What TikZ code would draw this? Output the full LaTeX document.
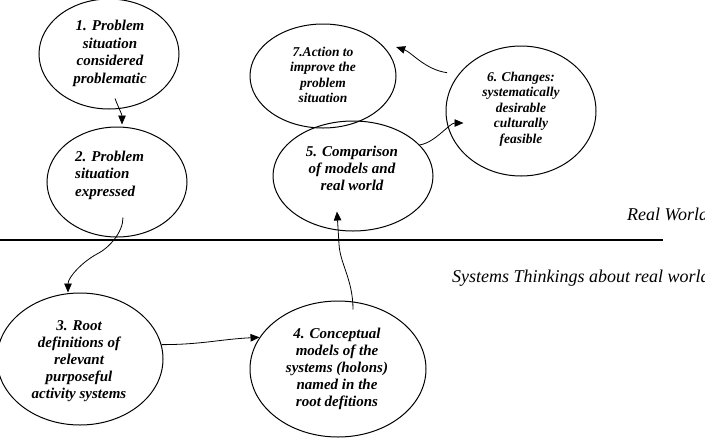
\documentclass[tikz,border=0pt]{standalone}
\usepackage{fontspec}
\setmainfont{Liberation Serif}
\usetikzlibrary{arrows.meta,shapes.geometric,calc}
\begin{document}
\begin{tikzpicture}[x=1pt,y=-1pt,
  el/.style={draw,ellipse,line width=1pt,inner sep=0pt},
  arr/.style={line width=0.8pt,-{Triangle[length=9pt,width=7.5pt]}},
  tx/.style={inner sep=0pt,align=center},
  big/.style={font=\fontsize{15}{17.5}\selectfont\bfseries\itshape},
  small/.style={font=\fontsize{13.5}{15.4}\selectfont\bfseries\itshape}]
\useasboundingbox (0,0) rectangle (705,440);
% ellipses
\node[el,minimum width=140pt,minimum height=110pt] (e1) at (109,54) {};
\node[el,minimum width=140pt,minimum height=110pt] (e2) at (117,182) {};
\node[el,minimum width=146pt,minimum height=104pt] (e7) at (323,76) {};
\node[el,minimum width=160pt,minimum height=110pt] (e5) at (353,176) {};
\node[el,minimum width=150pt,minimum height=130pt] (e6) at (521,111) {};
\node[el,minimum width=166pt,minimum height=132pt] (e3) at (80,359) {};
\node[el,minimum width=176pt,minimum height=136pt] (e4) at (338,369) {};
% texts
\node[tx,big] (t1) at (110,53.5) {1. Problem\\situation\\considered\\problematic};
\node[tx,big,align=left,anchor=west] (t2) at (75,175) {2. Problem\\situation\\expressed};
\node[tx,small] (t7) at (323,75) {7.Action to\\improve the\\problem\\situation};
\node[tx,big,font=\fontsize{15}{16.7}\selectfont\bfseries\itshape] (t5) at (352,168.5) {5. Comparison\\of models and\\real world};
\node[tx,small] (t6) at (521,109) {6. Changes:\\systematically\\desirable\\culturally\\feasible};
\node[tx,big,font=\fontsize{15}{17}\selectfont\bfseries\itshape] (t3) at (79,361) {3. Root\\definitions of\\relevant\\purposeful\\activity systems};
\node[tx,big,font=\fontsize{15}{17}\selectfont\bfseries\itshape] (t4) at (337,369) {4. Conceptual\\models of the\\systems (holons)\\named in the\\root defitions};
% separator
\draw[line width=1.3pt] (0,240) coordinate (L1) -- (663,240) coordinate (L2);
\node[anchor=base west,inner sep=0pt,font=\fontsize{18}{21}\selectfont\itshape] (rw) at (627,220) {Real World};
\node[anchor=base west,inner sep=0pt,font=\fontsize{18}{21}\selectfont\itshape] (st) at (452,282) {Systems Thinkings about real world};
% connectors
\draw[arr] ($(e1.south)+(6,-11)$) .. controls +(3,8) and +(0,-10) .. ($(e2.north)+(5,-2)$);
\draw[arr] ($(e2.south)+(6,-20)$) .. controls +(0,15) and +(12,-6) .. (97,254)
  .. controls +(-15,8) and +(0,-15) .. ($(e3.north)+(-12,0)$);
\draw[arr] (e3.10) .. controls +(40,0) and +(-40,2) .. (e4.158);
\draw[arr] ($(e4.north)+(15,9)$) .. controls +(0,-30) and +(1,20) .. (339,244) -- ($(e5.south)+(-16,-20)$);
\draw[arr] (e5.25) .. controls +(15,-2) and +(-14,0) .. ($(e6.west)+(18,12)$);
\draw[arr] ($(e6.150)+(-11,-2)$) .. controls +(-22,-3) and +(15,5) .. ($(e7.30)+(16,4)$);
\end{tikzpicture}
\end{document}
